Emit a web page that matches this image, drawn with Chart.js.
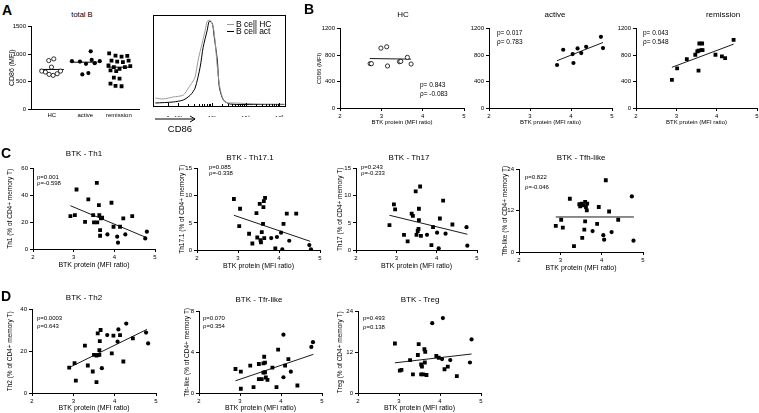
<!DOCTYPE html>
<html><head><meta charset="utf-8">
<script src="https://cdn.jsdelivr.net/npm/chart.js@4.4.1/dist/chart.umd.min.js"></script>
<style>
body{margin:0;background:#fff;}
#root{position:relative;width:759px;height:413px;overflow:hidden;font-family:"Liberation Sans",Arial,sans-serif;color:#000;background:#fff;}
canvas{position:absolute;}
.t{position:absolute;white-space:nowrap;line-height:1;color:#000;}
</style></head><body><div id="root"></div>
<script>
// ---------- DATA ----------
// Panel A: total B, CD86 MFI per group
const aCats = ['HC', 'active', 'remission'];
const aHCjit = [-0.09, 0.06, -0.30, -0.19, -0.08, 0.04, 0.16, 0.26, -0.01];
const aHCval = [882, 912, 690, 672, 630, 612, 642, 690, 762];
const aActJit = [-0.40, -0.16, 0.02, 0.16, 0.19, 0.43, 0.28, 0.09, -0.09];
const aActVal = [870, 864, 822, 1050, 894, 870, 834, 654, 630];
const aRemJit = [-0.29, -0.10, 0.08, 0.25, -0.22, -0.05, 0.12, 0.29, -0.31, -0.15, 0.02, 0.18, 0.34, -0.25, -0.08, -0.15, 0.02, -0.25, -0.10, 0.08];
const aRemVal = [1014, 972, 954, 966, 882, 864, 852, 882, 792, 762, 732, 762, 780, 702, 690, 570, 552, 462, 420, 414];
const aMedian = [720, 852, 762];
const aYTicks = [0, 500, 1000, 1500];

// Histogram: CD86 (decade coordinate) vs % of max
const histTickVals = [1.7, 2, 3, 4, 5];
const histTickLabels = ['0', '10\u00b2', '10\u00b3', '10\u2074', '10\u2075'];
const histHCx = [1.32, 1.55, 1.85, 2.15, 2.30, 2.42, 2.50, 2.59, 2.71, 2.80, 2.86, 2.95, 3.04, 3.10, 3.16, 3.25, 3.39, 3.69, 4.43, 5.15];
const histHCy = [8.8, 7.7, 9.9, 12, 19.7, 26.3, 31.8, 50.4, 69, 83.2, 93.1, 94.2, 86.5, 69, 42.7, 17.5, 4.4, 3.3, 2.2, 2];
const histActX = [1.32, 1.85, 2.15, 2.36, 2.50, 2.65, 2.74, 2.86, 2.92, 3.01, 3.07, 3.16, 3.22, 3.34, 3.54, 4.43, 5.15];
const histActY = [3.3, 4.4, 6.6, 12, 19.7, 42.7, 64.6, 83.2, 93.1, 91, 75.6, 50.4, 20.8, 6.6, 2.2, 1.6, 1.6];

// Panel B: BTK protein vs CD86
const btkTicks = [2, 3, 4, 5];
const bYTicks = [0, 400, 800, 1200];
const bHCx = [2.73, 2.76, 2.99, 3.13, 3.15, 3.44, 3.47, 3.63, 3.72];
const bHCy = [670, 670, 905, 925, 635, 700, 705, 765, 665];
const bHCfitX = [2.72, 3.72], bHCfitY = [748, 738];
const bActX = [3.66, 3.81, 4.04, 4.06, 4.16, 4.25, 4.37, 4.73, 4.78];
const bActY = [650, 880, 815, 680, 900, 830, 925, 1075, 905];
const bActFitX = [3.66, 4.78], bActFitY = [715, 990];
const bRemX = [2.89, 3.02, 3.26, 3.47, 3.52, 3.55, 3.55, 3.57, 3.62, 3.64, 3.65, 3.97, 4.13, 4.21, 4.42];
const bRemY = [425, 600, 740, 805, 855, 565, 865, 975, 875, 975, 875, 805, 780, 755, 1030];
const bRemFitX = [2.89, 4.42], bRemFitY = [615, 965];

// Panel C
const th1SqX = [2.92, 3.03, 3.07, 3.28, 3.36, 3.48, 3.50, 3.58, 3.57, 3.62, 3.63, 3.65, 3.65, 3.67, 3.70, 3.93, 3.98, 4.14, 4.22, 4.44];
const th1SqY = [24.6, 25.3, 44.4, 20.3, 37, 25.3, 19.9, 19.9, 49.4, 32.8, 25.3, 14.1, 9.9, 22.8, 23.3, 34.5, 16.6, 16.6, 22.8, 24.6];
const th1CiX = [3.83, 4.07, 4.09, 4.27, 4.76, 4.80];
const th1CiY = [10.9, 9.2, 4.7, 10.9, 7.9, 12.9];
const th1FitX = [2.92, 4.80], th1FitY = [32.3, 8.4];

const th171SqX = [2.90, 3.05, 3.03, 3.27, 3.35, 3.45, 3.47, 3.53, 3.55, 3.56, 3.58, 3.61, 3.62, 3.63, 3.64, 3.66, 3.91, 4.11, 4.19, 4.42];
const th171SqY = [9.4, 7.6, 4.4, 3.0, 1.2, 6.8, 2.3, 8.5, 1.8, 1.4, 3.3, 4.8, 7.9, 9.0, 2.2, 9.6, 0.3, 4.8, 6.7, 6.7];
const th171CiX = [3.81, 3.95, 4.05, 4.08, 4.25, 4.74, 4.78];
const th171CiY = [2.2, 2.4, 3.2, 0.1, 1.7, 0.9, 0.1];
const th171FitX = [2.90, 4.76], th171FitY = [6.4, 1.6];

const th17SqX = [2.83, 2.94, 2.97, 3.19, 3.28, 3.38, 3.41, 3.48, 3.50, 3.53, 3.55, 3.56, 3.56, 3.59, 3.61, 3.87, 3.91, 4.08, 4.16, 4.39];
const th17SqY = [4.6, 8.4, 7.5, 2.8, 1.6, 6.7, 6.3, 10.8, 2.8, 3.5, 3.9, 7.6, 5.5, 11.7, 2.6, 0.9, 4.2, 5.8, 9.1, 4.7];
const th17CiX = [3.76, 4.01, 4.05, 4.22, 4.74, 4.76];
const th17CiY = [2.8, 3.2, 0.3, 3.0, 4.2, 0.8];
const th17FitX = [2.83, 4.76], th17FitY = [6.4, 2.9];

const tfhSqX = [2.89, 3.02, 3.06, 3.23, 3.46, 3.48, 3.52, 3.56, 3.60, 3.62, 3.64, 3.65, 3.33, 3.53, 3.58, 3.60, 3.89, 3.93, 4.10, 4.18, 4.40];
const tfhSqY = [7.6, 9.4, 7.1, 15.5, 13.9, 13.3, 14.1, 13.6, 14.6, 13.1, 12.1, 14.1, 1.7, 4.1, 6.5, 8.9, 8.2, 13.1, 20.9, 11.8, 9.4];
const tfhCiX = [3.78, 4.04, 4.06, 4.24, 4.73, 4.77];
const tfhCiY = [6.1, 4.9, 3.6, 5.8, 16.2, 3.3];
const tfhFitX = [2.89, 4.78], tfhFitY = [10.2, 10.2];

// Panel D
const th2SqX = [2.90, 3.03, 3.06, 3.28, 3.35, 3.47, 3.50, 3.56, 3.56, 3.59, 3.60, 3.63, 3.63, 3.64, 3.66, 3.93, 3.97, 4.13, 4.21, 4.44];
const th2SqY = [12.2, 14.3, 5.9, 22.7, 13.2, 10.3, 18.3, 17.9, 5.2, 28.6, 18.3, 18.3, 20.6, 24.9, 30.2, 19.0, 27.5, 27.8, 15.1, 26.2];
const th2CiX = [3.69, 3.82, 4.07, 4.09, 4.28, 4.76, 4.81];
const th2CiY = [11.9, 27.8, 24.6, 30.5, 33.3, 29.0, 23.8];
const th2FitX = [2.90, 4.78], th2FitY = [12.2, 30.5];

const tfrSqX = [2.89, 3.02, 3.02, 3.25, 3.33, 3.46, 3.46, 3.53, 3.57, 3.57, 3.59, 3.61, 3.61, 3.63, 3.67, 3.79, 3.89, 3.93, 4.10, 4.18, 4.40];
const tfrSqY = [2.36, 2.1, 0.42, 2.69, 0.58, 2.85, 1.36, 1.36, 2.91, 2.0, 3.56, 2.98, 2.04, 1.52, 1.29, 2.49, 0.58, 4.27, 2.69, 3.33, 0.74];
const tfrCiX = [4.06, 4.06, 4.24, 4.74, 4.78];
const tfrCiY = [5.73, 1.55, 2.1, 4.53, 5.0];
const tfrFitX = [2.89, 4.79], tfrFitY = [1.2, 3.8];

const tregSqX = [2.90, 3.02, 3.06, 3.27, 3.34, 3.46, 3.48, 3.54, 3.56, 3.54, 3.59, 3.62, 3.64, 3.63, 3.67, 3.91, 3.97, 4.11, 4.19, 4.41];
const tregSqY = [14.6, 6.6, 6.8, 9.7, 5.5, 11.2, 14.4, 8.4, 7.8, 5.5, 5.5, 12.9, 12.1, 9.0, 5.3, 10.9, 10.4, 7.0, 7.8, 5.0];
const tregCiX = [3.81, 4.05, 4.07, 4.25, 4.73, 4.77];
const tregCiY = [20.6, 10.0, 22.1, 9.7, 9.0, 15.8];
const tregFitX = [2.90, 4.77], tregFitY = [8.9, 11.5];

// ---------- RENDER ----------
const F = '"Liberation Sans", Arial, sans-serif';
Chart.defaults.font.family = F;
Chart.defaults.color = '#000';
const root = document.getElementById('root');

function txt(s, x, y, size, opts) {
  opts = opts || {};
  const d = document.createElement('div');
  d.className = 't'; d.textContent = s;
  d.style.fontSize = size + 'px';
  d.style.height = size + 'px';
  d.style.top = Math.round(y - size / 2) + 'px';
  if (opts.center) {
    d.style.left = Math.round(x - 100) + 'px';
    d.style.width = '200px';
    d.style.textAlign = 'center';
  } else {
    d.style.left = Math.round(x) + 'px';
  }
  if (opts.bold) d.style.fontWeight = 'bold';
  root.appendChild(d);
  return d;
}
const pts = (xs, ys) => xs.map((x, i) => ({ x: x, y: ys[i] }));
const sq = (xs, ys) => ({ data: pts(xs, ys), pointStyle: 'rect', pointRadius: 2.7, backgroundColor: '#000', borderColor: '#000', borderWidth: 0 });
const ci = (xs, ys) => ({ data: pts(xs, ys), pointStyle: 'circle', pointRadius: 2.1, backgroundColor: '#000', borderColor: '#000', borderWidth: 0 });
const oc = (xs, ys) => ({ data: pts(xs, ys), pointStyle: 'circle', pointRadius: 2.1, backgroundColor: '#fff', borderColor: '#000', borderWidth: 0.8 });
const ln = (xs, ys, w) => ({ data: pts(xs, ys), showLine: true, pointRadius: 0, borderColor: '#000', borderWidth: w || 0.9, fill: false });

function scaleCfg(o) {
  return {
    type: 'linear', min: o.min, max: o.max,
    afterBuildTicks: s => { s.ticks = o.ticks.map(v => ({ value: v })); },
    afterFit: s => { if (o.isX) s.height = o.size; else s.width = o.size; },
    ticks: { font: { size: o.fs }, color: '#000', padding: o.tpad == null ? 2 : o.tpad, autoSkip: false, maxRotation: 0, minRotation: 0,
      callback: o.labels ? ((v, i) => o.labels[i]) : (v => String(v)) },
    grid: { display: true, drawOnChartArea: false, drawTicks: o.tl > 0, tickLength: o.tl, color: '#000', tickColor: '#000', tickWidth: 1, lineWidth: 1 },
    border: { display: true, color: '#000', width: 1 },
    title: { display: !!o.title, text: o.title, font: { size: o.tfs }, color: '#000', padding: { top: 0, bottom: 0 } }
  };
}

function panel(p) {
  const pt = 5, pr = 8;
  const L = p.x0 - p.yW, T = p.y0 - pt;
  const W = p.x1 - L + pr, H = p.y1 + p.xH - T;
  const c = document.createElement('canvas');
  c.width = W; c.height = H;
  c.style.left = L + 'px'; c.style.top = T + 'px';
  c.style.width = W + 'px'; c.style.height = H + 'px';
  root.appendChild(c);
  return new Chart(c, {
    type: 'scatter',
    data: { datasets: p.datasets },
    options: {
      responsive: false, animation: false, devicePixelRatio: 1,
      layout: { padding: { left: 0, top: pt, right: pr, bottom: 0 } },
      plugins: { legend: { display: false }, tooltip: { enabled: false } },
      scales: {
        x: scaleCfg(Object.assign({ isX: true, size: p.xH }, p.x)),
        y: scaleCfg(Object.assign({ isX: false, size: p.yW }, p.y))
      }
    }
  });
}

// ---- Panel A ----
txt('A', 2, 10, 14, { bold: true });
txt('total B', 82, 15, 7.5, { center: true });
const aHalf = 0.36;
panel({
  x0: 31, x1: 139, y0: 26, y1: 109, yW: 23, xH: 14,
  x: { min: 0.38, max: 3.6, ticks: [1, 2, 3], labels: aCats, fs: 6, tl: 0, tpad: 3 },
  y: { min: 0, max: 1500, ticks: aYTicks, fs: 6, tl: 3, title: 'CD86 (MFI)', tfs: 7 },
  datasets: [
    oc(aHCjit.map(j => 1 + j), aHCval),
    ci(aActJit.map(j => 2 + j), aActVal),
    sq(aRemJit.map(j => 3 + j), aRemVal),
    ...aMedian.map((m, i) => ln([i + 1 - aHalf, i + 1 + aHalf], [m, m], 1))
  ]
});

// ---- Histogram ----
(function () {
  const L = 152, T = 14;
  const c = document.createElement('canvas');
  const W = 285 - L + 2, H = 106 - T + 11;
  c.width = W; c.height = H;
  c.style.left = L + 'px'; c.style.top = T + 'px'; c.style.width = W + 'px'; c.style.height = H + 'px';
  root.appendChild(c);
  const frame = {
    id: 'frame',
    afterDraw(ch) {
      const a = ch.chartArea, ctx = ch.ctx;
      ctx.save(); ctx.strokeStyle = '#000'; ctx.lineWidth = 1;
      ctx.strokeRect(Math.round(a.left) + 0.5, Math.round(a.top) + 0.5, Math.round(a.right - a.left) - 1, Math.round(a.bottom - a.top));
      const xs = ch.scales.x;
      ctx.beginPath();
      for (let n = 2; n <= 4; n++) for (let k = 1; k <= 9; k++) {
        const px = Math.round(xs.getPixelForValue(n + Math.log10(k))) + 0.5;
        const len = k === 1 ? 3 : 2;
        ctx.moveTo(px, a.bottom); ctx.lineTo(px, a.bottom - len);
      }
      const p0 = Math.round(xs.getPixelForValue(histTickVals[0])) + 0.5;
      ctx.moveTo(p0, a.bottom); ctx.lineTo(p0, a.bottom - 3);
      const p5 = Math.round(xs.getPixelForValue(5)) + 0.5;
      ctx.moveTo(p5, a.bottom); ctx.lineTo(p5, a.bottom - 3);
      ctx.stroke(); ctx.restore();
    }
  };
  new Chart(c, {
    type: 'scatter',
    data: { datasets: [
      { data: pts(histHCx, histHCy), showLine: true, pointRadius: 0, borderColor: '#9a9a9a', borderWidth: 1, tension: 0.25 },
      { data: pts(histActX, histActY), showLine: true, pointRadius: 0, borderColor: '#000', borderWidth: 1, tension: 0.25 }
    ] },
    options: {
      responsive: false, animation: false, devicePixelRatio: 1,
      layout: { padding: { left: 1, top: 1, right: 1, bottom: 0 } },
      plugins: { legend: { display: false }, tooltip: { enabled: false } },
      scales: {
        x: { type: 'linear', min: 1.25, max: 5.2,
          afterBuildTicks: s => { s.ticks = histTickVals.map(v => ({ value: v })); },
          afterFit: s => { s.height = 11; },
          ticks: { font: { size: 5.5 }, color: '#000', padding: 1, autoSkip: false, maxRotation: 0, callback: (v, i) => histTickLabels[i] },
          grid: { display: false }, border: { display: false } },
        y: { display: false, min: 0, max: 100 }
      }
    },
    plugins: [frame]
  });
})();
// legend + arrow label
(function () {
  const mk = (y, col, label) => {
    const l = document.createElement('div');
    l.style.cssText = 'position:absolute;left:227px;top:' + y + 'px;width:7px;height:0;border-top:1px solid ' + col + ';';
    root.appendChild(l);
    txt(label, 236, y, 8.5);
  };
  mk(24, '#9a9a9a', 'B cell HC');
  mk(31, '#000', 'B cell act');
  const s = document.createElementNS('http://www.w3.org/2000/svg', 'svg');
  s.setAttribute('width', '46'); s.setAttribute('height', '10');
  s.style.cssText = 'position:absolute;left:153px;top:114px;';
  s.innerHTML = '<line x1="2" y1="5" x2="42" y2="5" stroke="#000" stroke-width="1"/><polyline points="37,2 42,5 37,8" fill="none" stroke="#000" stroke-width="1"/>';
  root.appendChild(s);
  txt('CD86', 180, 129, 9.5, { center: true });
})();

// ---- Panel B ----
txt('B', 304, 9, 14, { bold: true });
const bX = { min: 2, max: 5, ticks: btkTicks, fs: 6, tl: 3, title: 'BTK protein (MFI ratio)', tfs: 6 };
txt('HC', 403, 15, 8, { center: true });
panel({ x0: 340, x1: 464, y0: 28, y1: 108, yW: 24, xH: 18, x: bX,
  y: { min: 0, max: 1200, ticks: bYTicks, fs: 6, tl: 3, title: 'CD86 (MFI)', tfs: 6 },
  datasets: [oc(bHCx, bHCy), ln(bHCfitX, bHCfitY)] });
txt('p= 0.843', 420, 85, 6.5); txt('\u03c1= -0.083', 420, 94, 6.5);

txt('active', 555, 15, 8, { center: true });
panel({ x0: 489, x1: 612, y0: 28, y1: 108, yW: 20, xH: 18, x: bX,
  y: { min: 0, max: 1200, ticks: bYTicks, fs: 6, tl: 3 },
  datasets: [ci(bActX, bActY), ln(bActFitX, bActFitY)] });
txt('p= 0.017', 497, 33, 6.5); txt('\u03c1= 0.783', 497, 42, 6.5);

txt('remission', 723, 15, 8, { center: true });
panel({ x0: 636, x1: 757, y0: 28, y1: 108, yW: 20, xH: 18, x: bX,
  y: { min: 0, max: 1200, ticks: bYTicks, fs: 6, tl: 3 },
  datasets: [sq(bRemX, bRemY), ln(bRemFitX, bRemFitY)] });
txt('p= 0.043', 643, 33, 6.5); txt('\u03c1= 0.548', 643, 42, 6.5);

// ---- Panel C ----
txt('C', 1, 153, 14, { bold: true });
const cX = { min: 2, max: 5, ticks: btkTicks, fs: 6, tl: 3, title: 'BTK protein (MFI ratio)', tfs: 7 };
const yTitle = n => n + ' (% of CD4+ memory T)';

txt('BTK - Th1', 84, 154, 8, { center: true });
panel({ x0: 33, x1: 155, y0: 168, y1: 249, yW: 27, xH: 20, x: cX,
  y: { min: 0, max: 60, ticks: [0, 20, 40, 60], fs: 6, tl: 3, title: yTitle('Th1'), tfs: 6.5 },
  datasets: [sq(th1SqX, th1SqY), ci(th1CiX, th1CiY), ln(th1FitX, th1FitY)] });
txt('p=0.001', 37, 177, 6); txt('\u03c1=-0.598', 37, 183, 6);

txt('BTK - Th17.1', 250, 158, 8, { center: true });
panel({ x0: 197, x1: 320, y0: 168, y1: 250, yW: 19, xH: 20, x: cX,
  y: { min: 0, max: 15, ticks: [0, 5, 10, 15], fs: 6, tl: 3, title: yTitle('Th17.1'), tfs: 6.5 },
  datasets: [sq(th171SqX, th171SqY), ci(th171CiX, th171CiY), ln(th171FitX, th171FitY)] });
txt('p=0.085', 209, 167, 6); txt('\u03c1=-0.338', 209, 173, 6);

txt('BTK - Th17', 409, 158, 8, { center: true });
panel({ x0: 356, x1: 477, y0: 168, y1: 250, yW: 20, xH: 20, x: cX,
  y: { min: 0, max: 15, ticks: [0, 5, 10, 15], fs: 6, tl: 3, title: yTitle('Th17'), tfs: 6.5 },
  datasets: [sq(th17SqX, th17SqY), ci(th17CiX, th17CiY), ln(th17FitX, th17FitY)] });
txt('p=0.243', 361, 167, 6); txt('\u03c1=-0.233', 361, 173, 6);

txt('BTK - Tfh-like', 581, 158, 8, { center: true });
panel({ x0: 519, x1: 643, y0: 169, y1: 252, yW: 18, xH: 20, x: cX,
  y: { min: 0, max: 24, ticks: [0, 12, 24], fs: 6, tl: 3, title: yTitle('Tfh-like'), tfs: 6.5 },
  datasets: [sq(tfhSqX, tfhSqY), ci(tfhCiX, tfhCiY), ln(tfhFitX, tfhFitY)] });
txt('p=0.822', 525, 177, 6); txt('\u03c1=-0.046', 525, 187, 6);

// ---- Panel D ----
txt('D', 1, 296, 14, { bold: true });
const dX = { min: 2, max: 5, ticks: btkTicks, fs: 6, tl: 3, title: 'BTK protein (MFI ratio)', tfs: 7 };

txt('BTK - Th2', 84, 298, 8, { center: true });
panel({ x0: 32, x1: 156, y0: 309, y1: 393, yW: 26, xH: 19, x: dX,
  y: { min: 0, max: 40, ticks: [0, 20, 40], fs: 6, tl: 3, title: yTitle('Th2'), tfs: 6.5 },
  datasets: [sq(th2SqX, th2SqY), ci(th2CiX, th2CiY), ln(th2FitX, th2FitY)] });
txt('p=0.0003', 37, 318, 6); txt('\u03c1=0.643', 37, 326, 6);

txt('BTK - Tfr-like', 259, 300, 8, { center: true });
panel({ x0: 199, x1: 322, y0: 311, y1: 393, yW: 16, xH: 19, x: dX,
  y: { min: 0, max: 8, ticks: [0, 4, 8], fs: 6, tl: 3, title: yTitle('Tfr-like'), tfs: 6.5 },
  datasets: [sq(tfrSqX, tfrSqY), ci(tfrCiX, tfrCiY), ln(tfrFitX, tfrFitY)] });
txt('p=0.070', 203, 318, 6); txt('\u03c1=0.354', 203, 326, 6);

txt('BTK - Treg', 420, 300, 8, { center: true });
panel({ x0: 358, x1: 481, y0: 311, y1: 393, yW: 22, xH: 19, x: dX,
  y: { min: 0, max: 24, ticks: [0, 12, 24], fs: 6, tl: 3, title: yTitle('Treg'), tfs: 6.5 },
  datasets: [sq(tregSqX, tregSqY), ci(tregCiX, tregCiY), ln(tregFitX, tregFitY)] });
txt('p=0.493', 363, 318, 6); txt('\u03c1=0.138', 363, 327, 6);
</script>
</body></html>
